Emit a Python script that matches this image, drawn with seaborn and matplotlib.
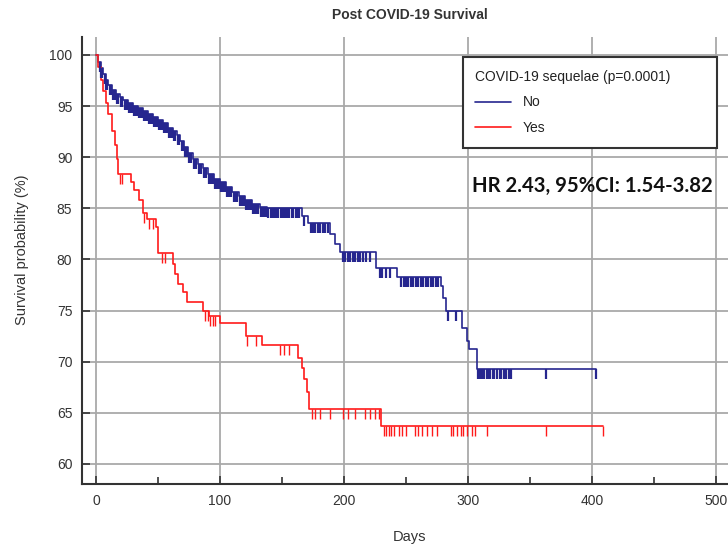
import numpy as np
import pandas as pd
import seaborn as sns
import matplotlib.pyplot as plt
from matplotlib.ticker import MultipleLocator

# Kaplan-Meier steps (days, survival %)
no_days = [0, 2, 4, 6, 8, 10, 13, 16, 19, 22, 26, 30, 34, 38, 42, 46, 50, 54, 58, 62,
           65, 68, 71, 74, 78, 82, 86, 90, 95, 100, 105, 110, 115, 120, 126, 132, 138,
           166, 171, 189, 193, 197, 226, 243, 278, 280, 282, 295, 299, 301, 307, 403]
no_surv = [100, 99.3, 98.7, 98.1, 97.6, 97.1, 96.6, 96.2, 95.9, 95.6, 95.3, 95.0, 94.8,
           94.5, 94.2, 93.9, 93.6, 93.3, 92.9, 92.6, 92.2, 91.6, 91.0, 90.4, 89.8, 89.3,
           88.9, 88.4, 87.9, 87.6, 87.1, 86.6, 86.2, 85.8, 85.4, 85.1, 85.0, 84.3, 83.6,
           82.5, 81.5, 80.7, 79.2, 78.3, 77.4, 76.2, 75.0, 73.3, 72.0, 71.2, 69.3, 69.3]

yes_days = [0, 2, 4, 6, 8, 10, 13, 15, 17, 18, 28, 31, 35, 38, 41, 48, 50, 62, 64, 66,
            70, 73, 86, 91, 100, 121, 134, 163, 166, 168, 170, 172, 230, 409]
yes_surv = [100, 98.8, 97.6, 96.5, 95.3, 94.2, 92.6, 91.2, 89.8, 88.4, 87.6, 86.8, 85.8,
            84.5, 84.0, 83.2, 80.6, 79.6, 78.6, 77.6, 76.8, 75.8, 75.0, 74.5, 73.8, 72.5,
            71.6, 70.4, 69.4, 68.3, 67.0, 65.4, 63.7, 63.7]

# censored observations (days)
no_censored = [3, 4, 5, 7, 8, 9, 11, 12, 14, 15, 17, 18, 20, 21, 23, 24, 25, 27, 28, 29,
               31, 32, 33, 35, 36, 37, 39, 40, 41, 43, 44, 45, 47, 48, 49, 51, 52, 53,
               55, 56, 57, 59, 60, 61, 63, 64, 66, 67, 69, 70, 72, 73, 75, 76, 77, 79,
               80, 81, 83, 84, 85, 87, 88, 89, 91, 92, 93, 94, 96, 97, 98, 99, 101, 102,
               103, 104, 106, 107, 108, 109, 111, 112, 113, 114, 116, 117, 118, 119, 121,
               122, 123, 124, 125, 127, 128, 129, 130, 131, 133, 134, 135, 136, 137, 139,
               141, 143, 144, 146, 147, 149, 150, 152, 153, 155, 156, 158, 159, 161, 162,
               164, 168, 173, 175, 177, 179, 181, 183, 185, 187, 199, 201, 203, 205, 207,
               209, 211, 213, 215, 218, 221, 229, 231, 234, 237, 246, 248, 250, 252, 254,
               256, 258, 260, 262, 264, 266, 268, 270, 272, 274, 276, 284, 290, 308, 310,
               311, 313, 315, 316, 318, 320, 321, 323, 326, 327, 329, 331, 333, 335, 363,
               403]
yes_censored = [19, 21, 39, 43, 46, 53, 56, 88, 90, 92, 94, 96, 122, 129, 148, 152, 156,
                174, 177, 181, 189, 199, 203, 209, 217, 221, 225, 228, 232, 234, 236, 238,
                240, 244, 247, 250, 257, 260, 263, 267, 271, 275, 286, 288, 291, 294, 296,
                299, 303, 306, 315, 363, 409]

colors = {"No": "#26268f", "Yes": "#ff1a1a"}

df = pd.concat([
    pd.DataFrame({"Days": no_days, "Survival": no_surv, "Group": "No"}),
    pd.DataFrame({"Days": yes_days, "Survival": yes_surv, "Group": "Yes"}),
])

sns.set_style("whitegrid")
plt.rcParams["font.family"] = ["Liberation Sans", "DejaVu Sans"]

fig = plt.figure(figsize=(7.28, 5.49), dpi=100)
ax = fig.add_axes([82 / 728, 65 / 549, 651 / 728, 447 / 549])

sns.lineplot(data=df, x="Days", y="Survival", hue="Group", palette=colors,
             estimator=None, sort=False, drawstyle="steps-post", linewidth=1.2,
             ax=ax, legend=True)

# censoring ticks hang below the curve
for days, surv, cens, grp, lw in [(no_days, no_surv, no_censored, "No", 1.6),
                                  (yes_days, yes_surv, yes_censored, "Yes", 1.0)]:
    idx = np.searchsorted(days, cens, side="right") - 1
    ax.plot(cens, np.array(surv)[idx], linestyle="none", marker=3,
            markersize=7, markeredgewidth=lw, color=colors[grp])

ax.set_xlim(-11.3, 513.7)
ax.set_ylim(58.04, 101.76)
ax.xaxis.set_major_locator(MultipleLocator(100))
ax.xaxis.set_minor_locator(MultipleLocator(50))
ax.yaxis.set_major_locator(MultipleLocator(5))
ax.grid(True, which="major", color="#a9a9a9", linewidth=1.3)
ax.grid(False, which="minor")
ax.tick_params(axis="both", which="major", direction="in", length=6, width=1.2,
               color="#333333", labelsize=10, labelcolor="#333333", pad=7)
ax.tick_params(axis="x", which="minor", direction="in", length=5, width=1.2,
               color="#333333", bottom=True)
ax.tick_params(axis="y", which="major", left=True)
ax.tick_params(axis="x", which="major", bottom=True)

for side in ["top", "right"]:
    ax.spines[side].set_visible(False)
for side in ["left", "bottom"]:
    ax.spines[side].set_color("#333333")
    ax.spines[side].set_linewidth(1.5)

ax.set_xlabel("")
ax.set_ylabel("")
fig.text(410 / 728, 1 - 537 / 549, "Days", ha="center", va="center",
         fontsize=10.5, color="#333333")
fig.text(22 / 728, 1 - 250 / 549, "Survival probability (%)", ha="center", va="center",
         rotation=90, fontsize=10.5, color="#333333")
fig.text(410 / 728, 1 - 15 / 549, "Post COVID-19 Survival", ha="center", va="center",
         fontsize=10, fontweight="bold", color="#333333")

handles, labels = ax.get_legend_handles_labels()
leg = ax.legend(handles, labels, title="COVID-19 sequelae (p=0.0001)",
                loc="upper left", bbox_to_anchor=(0.585, 0.955, 0.39, 0.0),
                mode="expand", borderaxespad=0, frameon=True, fancybox=False,
                framealpha=1, fontsize=10, title_fontsize=10, labelspacing=0.85,
                handlelength=2.6, borderpad=0.9, edgecolor="#333333")
leg._legend_box.align = "left"
leg.get_frame().set_linewidth(1.5)
for t in leg.get_texts():
    t.set_color("#222222")
leg.get_title().set_color("#222222")

fig.text(472 / 728, 1 - 186 / 549, "HR 2.43, 95%CI: 1.54-3.82", ha="left", va="center",
         fontsize=14.6, fontweight="bold", family=["Lato", "DejaVu Sans"], color="#111111")

fig.savefig("out.png", dpi=100)
